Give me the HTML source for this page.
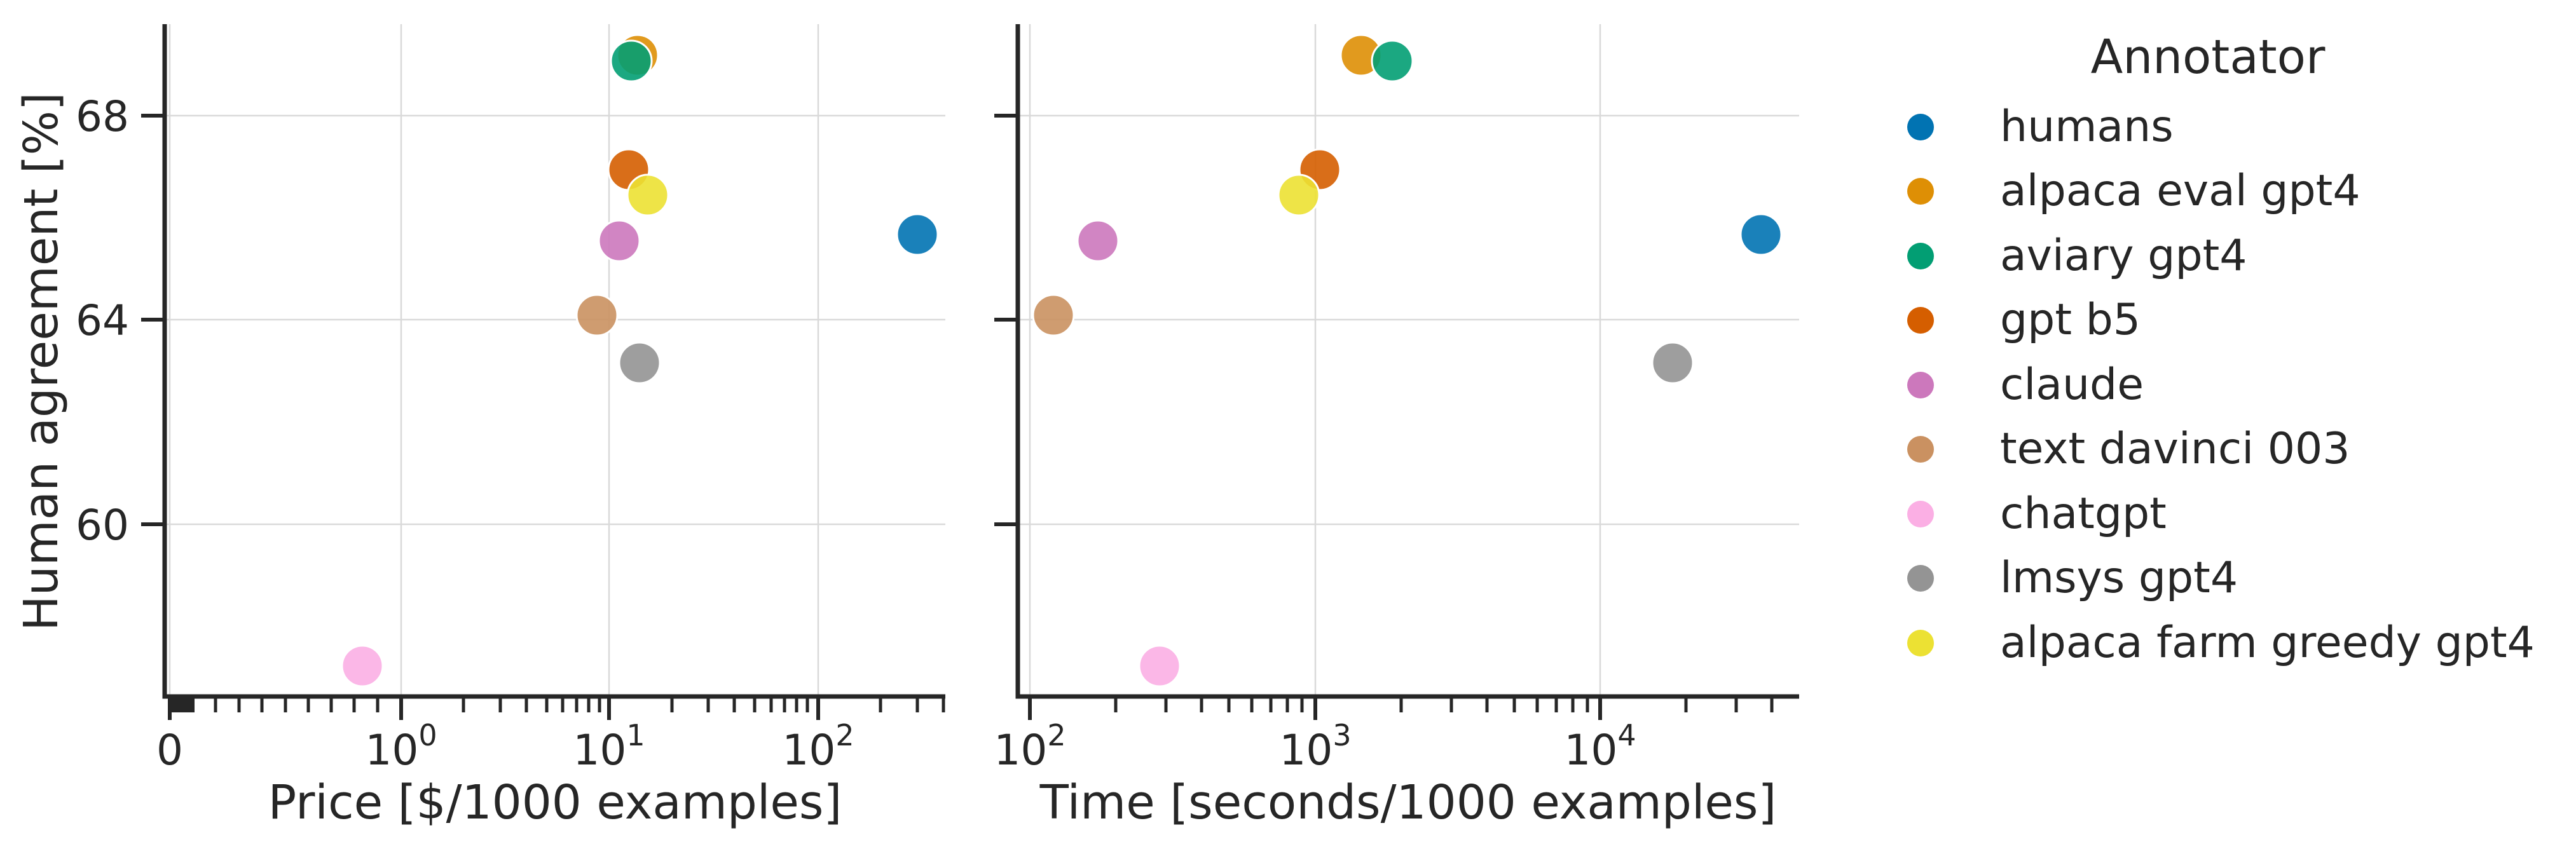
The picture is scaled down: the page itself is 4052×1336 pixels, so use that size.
<!DOCTYPE html>
<html><head><meta charset="utf-8"><style>
html,body{margin:0;padding:0;background:#fff}
svg{display:block}
text{font-family:"DejaVu Sans","Liberation Sans",sans-serif;fill:#262626}
</style></head><body>
<svg width="4052" height="1336" viewBox="0 0 4052 1336" xmlns="http://www.w3.org/2000/svg">
<g stroke="#d9d9d9" stroke-width="2.5">
<line x1="267" y1="38" x2="267" y2="1096"/><line x1="631" y1="38" x2="631" y2="1096"/><line x1="958" y1="38" x2="958" y2="1096"/><line x1="1287" y1="38" x2="1287" y2="1096"/>
<line x1="259" y1="182" x2="1487" y2="182"/><line x1="259" y1="503" x2="1487" y2="503"/><line x1="259" y1="825" x2="1487" y2="825"/>
<line x1="1620" y1="38" x2="1620" y2="1096"/><line x1="2069" y1="38" x2="2069" y2="1096"/><line x1="2517" y1="38" x2="2517" y2="1096"/>
<line x1="1601" y1="182" x2="2830" y2="182"/><line x1="1601" y1="503" x2="2830" y2="503"/><line x1="1601" y1="825" x2="2830" y2="825"/>
</g>
<g stroke="#fff" stroke-width="3">
<circle cx="1443" cy="369" r="32" fill="#0173b2" fill-opacity="0.9"/>
<circle cx="1003" cy="87" r="32" fill="#de8f05" fill-opacity="0.9"/>
<circle cx="993" cy="96" r="32" fill="#029e73" fill-opacity="0.9"/>
<circle cx="989" cy="267" r="32" fill="#d55e00" fill-opacity="0.9"/>
<circle cx="974" cy="379" r="32" fill="#cc78bc" fill-opacity="0.9"/>
<circle cx="939" cy="496" r="32" fill="#ca9161" fill-opacity="0.9"/>
<circle cx="570" cy="1048" r="32" fill="#fbafe4" fill-opacity="0.9"/>
<circle cx="1006" cy="571" r="32" fill="#949494" fill-opacity="0.9"/>
<circle cx="1019" cy="307" r="32" fill="#ece133" fill-opacity="0.9"/>
<circle cx="2770" cy="369" r="32" fill="#0173b2" fill-opacity="0.9"/>
<circle cx="2141" cy="87" r="32" fill="#de8f05" fill-opacity="0.9"/>
<circle cx="2190" cy="96" r="32" fill="#029e73" fill-opacity="0.9"/>
<circle cx="2076" cy="267" r="32" fill="#d55e00" fill-opacity="0.9"/>
<circle cx="1727" cy="379" r="32" fill="#cc78bc" fill-opacity="0.9"/>
<circle cx="1657" cy="496" r="32" fill="#ca9161" fill-opacity="0.9"/>
<circle cx="1824" cy="1048" r="32" fill="#fbafe4" fill-opacity="0.9"/>
<circle cx="2631" cy="571" r="32" fill="#949494" fill-opacity="0.9"/>
<circle cx="2043" cy="307" r="32" fill="#ece133" fill-opacity="0.9"/>
</g>
<g stroke="#262626" stroke-width="7" fill="none">
<polyline points="259,38 259,1096 1487,1096"/>
<polyline points="1601,38 1601,1096 2830,1096"/>
</g>
<g stroke="#262626" stroke-width="6">
<line x1="222" y1="182" x2="259" y2="182"/><line x1="222" y1="503" x2="259" y2="503"/><line x1="222" y1="825" x2="259" y2="825"/>
<line x1="1564" y1="182" x2="1601" y2="182"/><line x1="1564" y1="503" x2="1601" y2="503"/><line x1="1564" y1="825" x2="1601" y2="825"/>
<line x1="267" y1="1096" x2="267" y2="1133"/><line x1="631" y1="1096" x2="631" y2="1133"/><line x1="958" y1="1096" x2="958" y2="1133"/><line x1="1287" y1="1096" x2="1287" y2="1133"/>
<line x1="1620" y1="1096" x2="1620" y2="1133"/><line x1="2069" y1="1096" x2="2069" y2="1133"/><line x1="2517" y1="1096" x2="2517" y2="1133"/>
</g>
<rect x="264" y="1096" width="42" height="25" fill="#262626"/>
<g stroke="#262626" stroke-width="5">
<line x1="339" y1="1096" x2="339" y2="1121"/><line x1="376" y1="1096" x2="376" y2="1121"/><line x1="412" y1="1096" x2="412" y2="1121"/><line x1="449" y1="1096" x2="449" y2="1121"/><line x1="485" y1="1096" x2="485" y2="1121"/><line x1="521" y1="1096" x2="521" y2="1121"/><line x1="557" y1="1096" x2="557" y2="1121"/><line x1="594" y1="1096" x2="594" y2="1121"/>
<line x1="729" y1="1096" x2="729" y2="1121"/><line x1="787" y1="1096" x2="787" y2="1121"/><line x1="828" y1="1096" x2="828" y2="1121"/><line x1="860" y1="1096" x2="860" y2="1121"/><line x1="885" y1="1096" x2="885" y2="1121"/><line x1="907" y1="1096" x2="907" y2="1121"/><line x1="926" y1="1096" x2="926" y2="1121"/><line x1="943" y1="1096" x2="943" y2="1121"/>
<line x1="1057" y1="1096" x2="1057" y2="1121"/><line x1="1114" y1="1096" x2="1114" y2="1121"/><line x1="1155" y1="1096" x2="1155" y2="1121"/><line x1="1187" y1="1096" x2="1187" y2="1121"/><line x1="1213" y1="1096" x2="1213" y2="1121"/><line x1="1234" y1="1096" x2="1234" y2="1121"/><line x1="1253" y1="1096" x2="1253" y2="1121"/><line x1="1270" y1="1096" x2="1270" y2="1121"/>
<line x1="1385" y1="1096" x2="1385" y2="1121"/><line x1="1443" y1="1096" x2="1443" y2="1121"/><line x1="1484" y1="1096" x2="1484" y2="1121"/>
<line x1="1755" y1="1096" x2="1755" y2="1121"/><line x1="1834" y1="1096" x2="1834" y2="1121"/><line x1="1890" y1="1096" x2="1890" y2="1121"/><line x1="1933" y1="1096" x2="1933" y2="1121"/><line x1="1969" y1="1096" x2="1969" y2="1121"/><line x1="1999" y1="1096" x2="1999" y2="1121"/><line x1="2025" y1="1096" x2="2025" y2="1121"/><line x1="2048" y1="1096" x2="2048" y2="1121"/>
<line x1="2204" y1="1096" x2="2204" y2="1121"/><line x1="2283" y1="1096" x2="2283" y2="1121"/><line x1="2339" y1="1096" x2="2339" y2="1121"/><line x1="2382" y1="1096" x2="2382" y2="1121"/><line x1="2418" y1="1096" x2="2418" y2="1121"/><line x1="2448" y1="1096" x2="2448" y2="1121"/><line x1="2474" y1="1096" x2="2474" y2="1121"/><line x1="2497" y1="1096" x2="2497" y2="1121"/>
<line x1="2652" y1="1096" x2="2652" y2="1121"/><line x1="2731" y1="1096" x2="2731" y2="1121"/><line x1="2787" y1="1096" x2="2787" y2="1121"/>
</g>
<g font-size="66" text-anchor="end">
<text x="203" y="206">68</text><text x="203" y="527">64</text><text x="203" y="849">60</text>
</g>
<g font-size="66" text-anchor="middle">
<text x="267" y="1203">0</text>
<text x="631" y="1203">10<tspan font-size="46" dy="-30">0</tspan></text>
<text x="958" y="1203">10<tspan font-size="46" dy="-30">1</tspan></text>
<text x="1287" y="1203">10<tspan font-size="46" dy="-30">2</tspan></text>
<text x="1620" y="1203">10<tspan font-size="46" dy="-30">2</tspan></text>
<text x="2069" y="1203">10<tspan font-size="46" dy="-30">3</tspan></text>
<text x="2517" y="1203">10<tspan font-size="46" dy="-30">4</tspan></text>
</g>
<g font-size="74" text-anchor="middle">
<text x="873" y="1288">Price [$/1000 examples]</text>
<text x="2215" y="1288">Time [seconds/1000 examples]</text>
<text transform="translate(90,569) rotate(-90)">Human agreement [%]</text>
<text x="3473" y="115">Annotator</text>
</g>
<g>
<circle cx="3021" cy="200" r="21" fill="#0173b2"/>
<circle cx="3021" cy="301" r="21" fill="#de8f05"/>
<circle cx="3021" cy="403" r="21" fill="#029e73"/>
<circle cx="3021" cy="504" r="21" fill="#d55e00"/>
<circle cx="3021" cy="606" r="21" fill="#cc78bc"/>
<circle cx="3021" cy="707" r="21" fill="#ca9161"/>
<circle cx="3021" cy="809" r="21" fill="#fbafe4"/>
<circle cx="3021" cy="910" r="21" fill="#949494"/>
<circle cx="3021" cy="1012" r="21" fill="#ece133"/>
</g>
<g font-size="68">
<text x="3146" y="222">humans</text>
<text x="3146" y="323">alpaca eval gpt4</text>
<text x="3146" y="425">aviary gpt4</text>
<text x="3146" y="526">gpt b5</text>
<text x="3146" y="628">claude</text>
<text x="3146" y="729">text davinci 003</text>
<text x="3146" y="831">chatgpt</text>
<text x="3146" y="932">lmsys gpt4</text>
<text x="3146" y="1034">alpaca farm greedy gpt4</text>
</g>
</svg>
</body></html>
